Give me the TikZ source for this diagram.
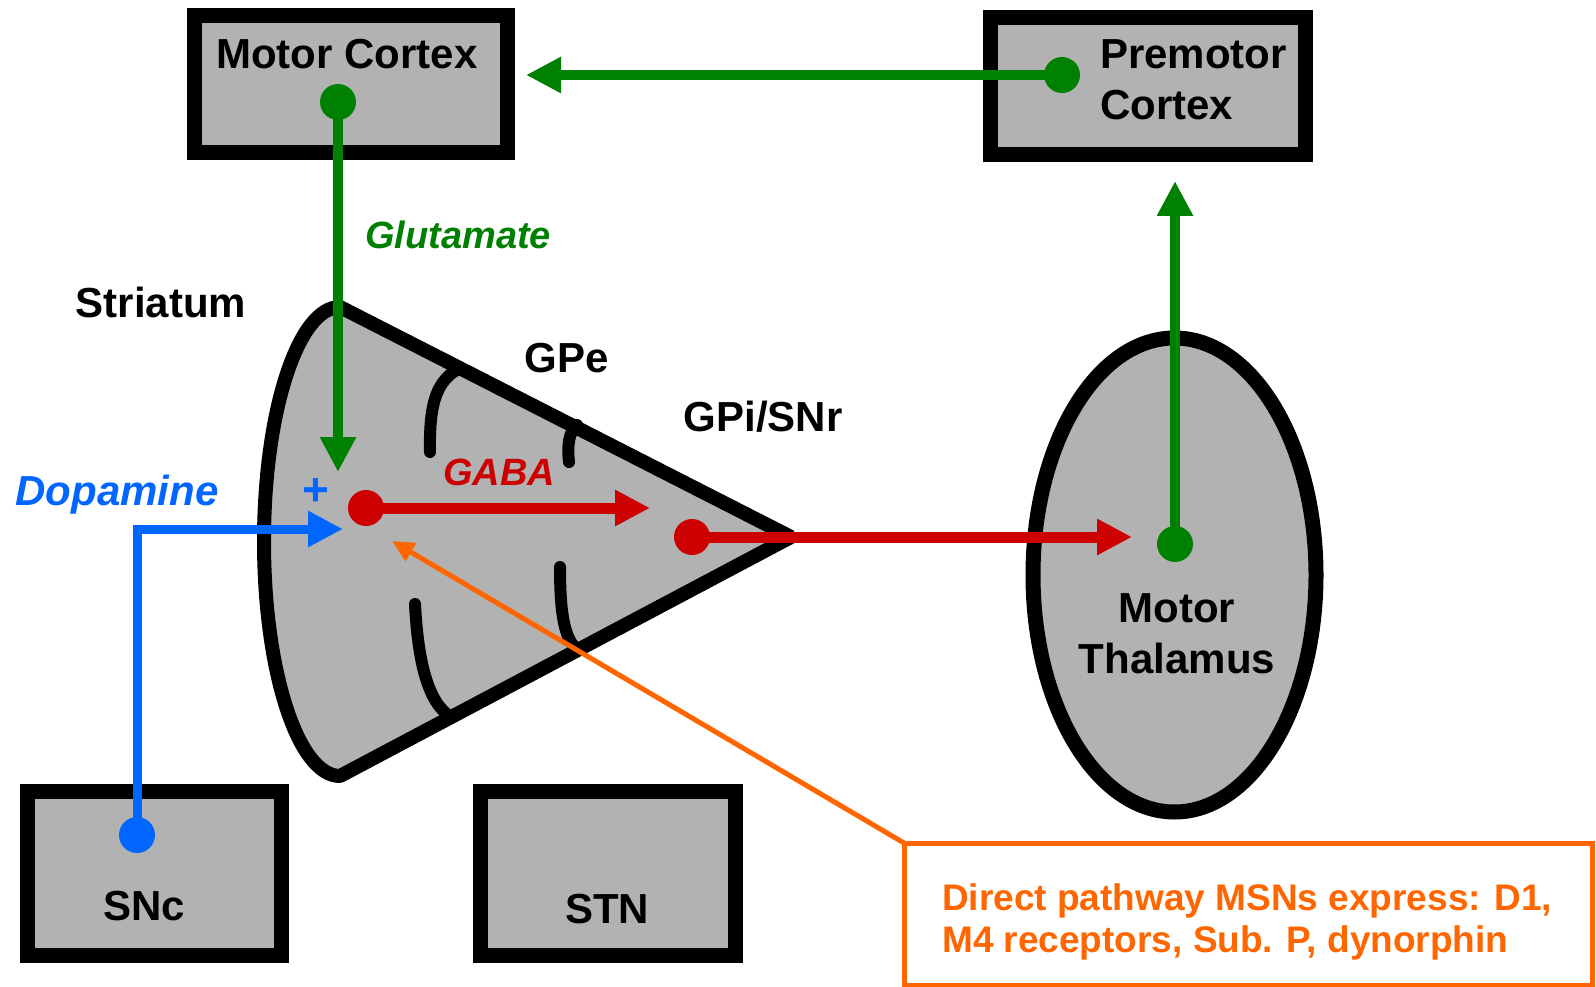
\documentclass[tikz,border=0pt]{standalone}
\usepackage{fontspec}
\setmainfont{Liberation Sans}
\usetikzlibrary{arrows.meta,shapes.geometric}
\definecolor{cgray}{RGB}{178,178,178}
\definecolor{cgreen}{RGB}{0,128,0}
\definecolor{cred}{RGB}{204,0,0}
\definecolor{cblue}{RGB}{0,102,255}
\definecolor{corange}{RGB}{255,102,0}
\begin{document}
\begin{tikzpicture}[x=1pt,y=-1pt,
  box/.style={draw=black, fill=cgray, line width=15pt, inner sep=0pt, outer sep=0pt},
  lbl/.style={inner sep=0pt, anchor=base, font=\fontsize{42}{51}\selectfont\bfseries},
  ilbl/.style={inner sep=0pt, anchor=base, font=\fontsize{38}{46}\selectfont\bfseries\itshape},
  olbl/.style={inner sep=0pt, anchor=base west, text=corange, font=\fontsize{37}{45}\selectfont\bfseries},
  dotnode/.style={circle, inner sep=0pt, minimum size=36pt},
  bigtip/.style={-{Triangle[length=35pt,width=34pt]}},
  conn/.style={line width=10pt},
  inner/.style={draw=black, line width=12pt, line cap=round}
]
\fill[white] (0,0) rectangle (1596,987);
\useasboundingbox (0,0) rectangle (1596,987);

% boxes
\node[box, minimum width=313pt, minimum height=137pt] (mc) at (351,84) {};
\node[box, minimum width=315pt, minimum height=137pt] (pmc) at (1148,86) {};
\node[box, minimum width=254pt, minimum height=164pt] (snc) at (154,873) {};
\node[box, minimum width=255pt, minimum height=164pt] (stn) at (607.5,873) {};
\node[draw=corange, line width=5pt, fill=white, inner sep=0pt, outer sep=0pt,
      minimum width=688pt, minimum height=142pt] (ob) at (1248,914) {};

% striatum cone
\draw[fill=cgray, line width=14pt, line join=bevel]
  (340,307) -- (791,537) -- (340,776)
  .. controls (298,776) and (264,671) .. (264,541.5)
  .. controls (264,412) and (298,307) .. (340,307) -- cycle;
\draw[inner] (430,452) .. controls (429,402) and (437,380) .. (460,368);
\draw[inner] (569,462) .. controls (567,445) and (569,432) .. (577,425);
\draw[inner] (415,604) .. controls (418,662) and (428,703) .. (451,717);
\draw[inner] (560,567) .. controls (560,612) and (564,640) .. (578,650);

% thalamus
\node[ellipse, draw=black, fill=cgray, line width=15pt, inner sep=0pt,
      minimum width=283pt, minimum height=474pt] (thal) at (1174.5,575) {};

% dots
\node[dotnode, fill=cgreen] (mcdot) at (338,102) {};
\node[dotnode, fill=cgreen] (pmcdot) at (1062,75) {};
\node[dotnode, fill=cgreen] (thdot) at (1175,544) {};
\node[dotnode, fill=cred] (strdot) at (366,508) {};
\node[dotnode, fill=cred] (gpidot) at (692,537) {};
\node[dotnode, fill=cblue] (sncdot) at (137,835) {};

\coordinate (mctip) at (526,75);
\coordinate (glutip) at (338,472);
\coordinate (pmctip) at (1175,181);
\coordinate (gabatip) at (650,508);
\coordinate (thtip) at (1132,537);
\coordinate (dopatip) at (343,529);
\coordinate (orangetip) at (392,541);

% connectors
\draw[conn, cgreen, bigtip] (pmcdot.center) -- (mctip);
\draw[conn, cgreen, bigtip] (mcdot.center) -- (glutip);
\draw[conn, cgreen, bigtip] (thdot.center) -- (pmctip);
\draw[conn, cred, line width=11pt, bigtip] (strdot.center) -- (gabatip);
\draw[conn, cred, line width=11pt, bigtip] (gpidot.center) -- (thtip);
\draw[conn, cblue, line width=9pt, line join=miter, bigtip] (sncdot.center) |- (dopatip);
\draw[corange, line width=5pt, -{Triangle[length=22pt,width=20pt]}] (ob.north west) -- (orangetip);

% labels
\node[lbl] (mct) at (347,69) {Motor Cortex};
\node[lbl, anchor=base west] (pmt1) at (1100,69) {Premotor};
\node[lbl, anchor=base west] (pmt2) at (1100,120) {Cortex};
\node[ilbl, text=cgreen] (glut) at (458,248) {Glutamate};
\node[lbl] (strt) at (161,317) {Striatum};
\node[lbl] (gpet) at (567,372) {GPe};
\node[lbl] (gpit) at (763,431) {GPi/SNr};
\node[ilbl, text=cred] (gabat) at (499,485) {GABA};
\node[ilbl, font=\fontsize{42}{51}\selectfont\bfseries\itshape, text=cblue] (dopat) at (117,505) {Dopamine};
\node[inner sep=0pt, anchor=base, text=cblue, font=\fontsize{46}{50}\selectfont\bfseries] (plus) at (316,505) {+};
\node[lbl] (tht1) at (1177,622) {Motor};
\node[lbl] (tht2) at (1177,673) {Thalamus};
\node[lbl] (snct) at (144,920) {SNc};
\node[lbl] (stnt) at (607,923) {STN};
\node[olbl] (ot1) at (942,910) {Direct pathway MSNs express: D1,};
\node[olbl] (ot2) at (942,952) {M4 receptors, Sub. P, dynorphin};
\end{tikzpicture}
\end{document}
